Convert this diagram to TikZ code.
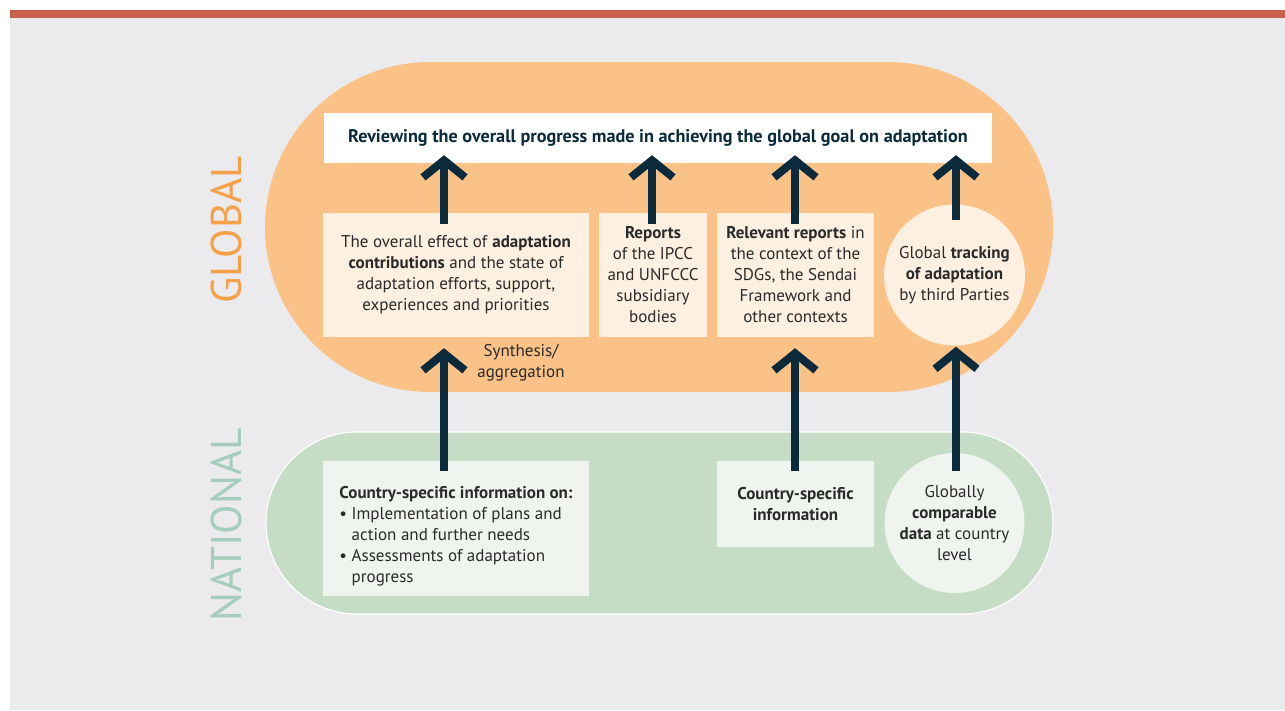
\documentclass[tikz,border=0pt]{standalone}
\usepackage{fontspec}
\setmainfont{PT Sans}
\usetikzlibrary{arrows.meta,calc}

\definecolor{bggrey}{HTML}{EBEBED}
\definecolor{topred}{HTML}{C9604B}
\definecolor{globalorange}{HTML}{FBC287}
\definecolor{globaltext}{HTML}{F5A14A}
\definecolor{cream}{HTML}{FEF0E0}
\definecolor{nationalgreen}{HTML}{C5DCC5}
\definecolor{nationaltext}{HTML}{A5CDBC}
\definecolor{palegreen}{HTML}{EFF4EE}
\definecolor{navy}{HTML}{0B2A3C}
\definecolor{ink}{HTML}{2A2A2A}

\begin{document}
\begin{tikzpicture}[x=1pt,y=-1pt,
  bodytext/.style={text=ink,font=\fontsize{17}{21}\selectfont,align=center,inner sep=0pt},
  globalbox/.style={bodytext,fill=cream},
  nationalbox/.style={bodytext,fill=palegreen},
  levellabel/.style={rotate=90,font=\fontsize{43}{43}\selectfont},
  uparrow/.style={draw=navy,line width=8pt,-{Straight Barb[length=17pt,width=42pt]}}]

% Background and top bar
\useasboundingbox (0,0) rectangle (1285,710);
\fill[bggrey] (10,12) rectangle (1285,710);
\fill[topred] (10,10) rectangle (1285,18);

% The two levels
\fill[globalorange,rounded corners=165pt] (265,62) rectangle (1053,392);
\filldraw[fill=nationalgreen,draw=white,line width=1.2pt,rounded corners=91pt] (266,432) rectangle (1053,614);

\node[levellabel,text=globaltext] (global) at (226,230) {GLOBAL};
\node[levellabel,text=nationaltext] (national) at (226,525) {NATIONAL};

% Global level
\node[fill=white,minimum width=668pt,minimum height=50pt,text=navy,
  font=\fontsize{18.2}{18}\selectfont\bfseries] (review) at (658,138)
  {Reviewing the overall progress made in achieving the global goal on adaptation};

\node[globalbox,minimum width=266pt,minimum height=124pt] (effect) at (456,275)
  {The overall effect of \textbf{adaptation}\\ \textbf{contributions} and the state of\\
   adaptation efforts, support,\\ experiences and priorities};
\node[globalbox,minimum width=108pt,minimum height=124pt] (ipcc) at (653,275)
  {\textbf{Reports}\\ of the IPCC\\ and UNFCCC\\ subsidiary\\ bodies};
\node[globalbox,minimum width=157pt,minimum height=124pt] (sdgs) at (795.5,275)
  {\textbf{Relevant reports} in\\ the context of the\\ SDGs, the Sendai\\ Framework and\\ other contexts};
\node[globalbox,circle,minimum size=141pt] (tracking) at (954.5,275)
  {Global \textbf{tracking}\\ \textbf{of adaptation}\\ by third Parties};

\node[bodytext] (synthesis) at (521,363) {Synthesis/\\ aggregation};

% National level
\node[nationalbox,align=left,minimum width=266pt,minimum height=135pt] (countryon) at (456,528.5)
  {\rule{0pt}{28pt}\textbf{Country-specific information on:}\\
   \textbullet\ Implementation of plans and\\
   \hphantom{\textbullet\ }action and further needs\\
   \textbullet\ Assessments of adaptation\\
   \hphantom{\textbullet\ }progress};
\node[nationalbox,minimum width=157pt,minimum height=86pt] (country) at (795.5,504)
  {\textbf{Country-specific}\\ \textbf{information}};
\node[nationalbox,circle,minimum size=140pt] (comparable) at (954.5,523)
  {Globally\\ \textbf{comparable}\\ \textbf{data} at country\\ level};

% Arrows up to the review
\draw[uparrow] ($(effect.north)+(-12,11)$) -- ($(effect.north |- review.south)+(-12,-8)$);
\draw[uparrow] ($(ipcc.north)+(-1,11)$) -- ($(ipcc.north |- review.south)+(-1,-8)$);
\draw[uparrow] ($(sdgs.north)+(-0.5,11)$) -- ($(sdgs.north |- review.south)+(-0.5,-8)$);
\draw[uparrow] ($(tracking.north)+(1.5,16)$) -- ($(tracking.north |- review.south)+(1.5,-8)$);

% Arrows up from the national level
\draw[uparrow] ($(countryon.north)+(-12,10)$) -- ($(effect.south)+(-12,11)$);
\draw[uparrow] ($(country.north)+(-0.5,10)$) -- ($(sdgs.south)+(-0.5,11)$);
\draw[uparrow] ($(comparable.north)+(1.5,18)$) -- ($(tracking.south)+(1.5,1)$);

\end{tikzpicture}
\end{document}
